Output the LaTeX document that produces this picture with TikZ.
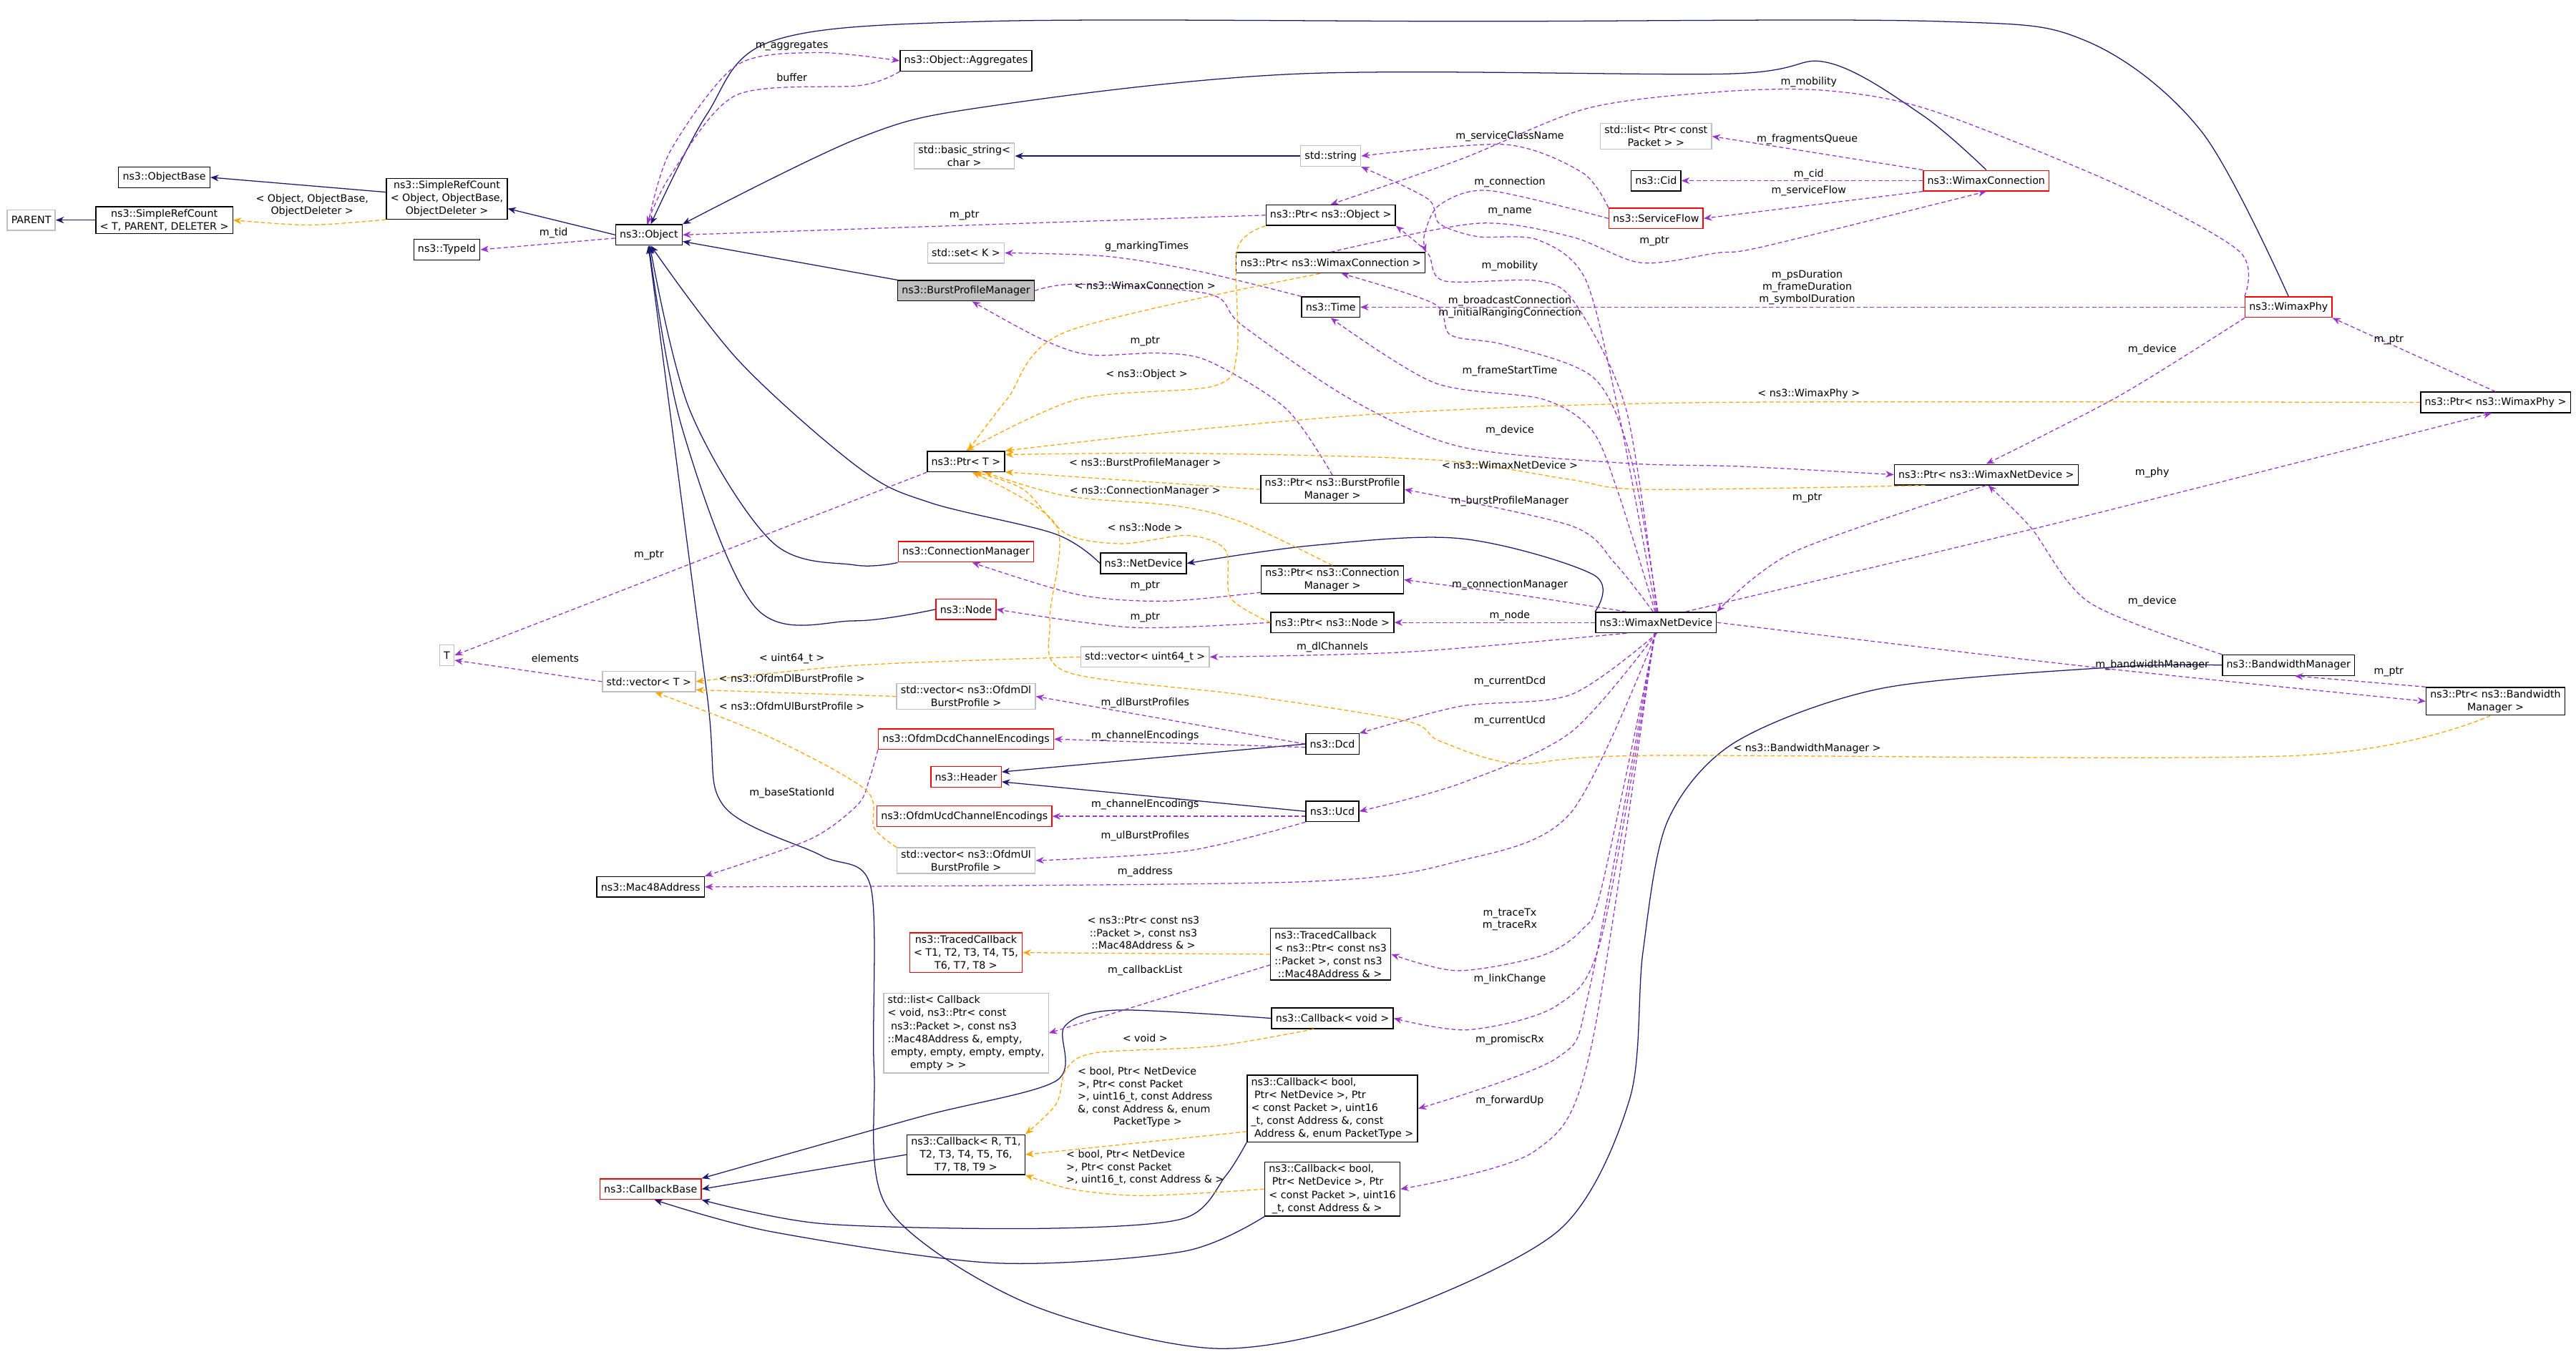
\documentclass[tikz,border=0pt]{standalone}
\usepackage{fontspec}
\setmainfont{DejaVu Sans}
\usetikzlibrary{arrows.meta}
\definecolor{inhc}{HTML}{191970}
\definecolor{usec}{HTML}{9A32CD}
\definecolor{tplc}{HTML}{FFA500}
\definecolor{grayb}{HTML}{BFBFBF}
\tikzset{
 box/.style={draw=black,line width=0.6pt,fill=white,inner xsep=2.5pt,inner ysep=1.5pt,minimum height=12.5pt,align=center,font=\fontsize{6.2}{7.9}\selectfont},
 redbox/.style={box,draw=red},
 graybox/.style={box,draw=grayb},
 lbl/.style={inner sep=0pt,align=center,font=\fontsize{6.2}{7.6}\selectfont},
 inh/.style={draw=inhc,line width=0.55pt,-{Stealth[length=5pt,width=4pt]}},
 use/.style={draw=usec,line width=0.55pt,dash pattern=on 2.5pt off 1.6pt,-{Stealth[length=5pt,width=4pt]}},
 tpl/.style={draw=tplc,line width=0.55pt,dash pattern=on 2.5pt off 1.6pt,-{Stealth[length=5pt,width=4pt]}},
}
\begin{document}
\begin{tikzpicture}[x=1pt,y=-1pt]
\useasboundingbox[fill=white] (0,0) rectangle (1568,823);
% nodes
\node[graybox] (parent) at (19,134) {PARENT};
\node[box] (srct) at (100,134) {ns3::SimpleRefCount\\{}< T, PARENT, DELETER >};
\node[box] (objbase) at (100,108) {ns3::ObjectBase};
\node[box] (srco) at (272,121) {ns3::SimpleRefCount\\{}< Object, ObjectBase,\\ObjectDeleter >};
\node[box] (typeid) at (272,152) {ns3::TypeId};
\node[box] (obj) at (395,143) {ns3::Object};
\node[graybox] (tt) at (272,399) {T};
\node[graybox] (vect) at (395,415) {std::vector< T >};
\node[box] (aggr) at (588,37) {ns3::Object::Aggregates};
\node[graybox] (bstr) at (587,95) {std::basic\_string<\\char >};
\node[graybox] (str) at (810,95) {std::string};
\node[graybox] (lpk) at (1008,83) {std::list< Ptr< const\\Packet > >};
\node[box] (cid) at (1008,110) {ns3::Cid};
\node[redbox] (sflow) at (1008,133) {ns3::ServiceFlow};
\node[box] (pobj) at (810,131) {ns3::Ptr< ns3::Object >};
\node[graybox] (setk) at (588,154) {std::set< K >};
\node[box] (pwc) at (810,160) {ns3::Ptr< ns3::WimaxConnection >};
\node[box,fill=grayb] (bpm) at (588,177) {ns3::BurstProfileManager};
\node[box] (time) at (810,187) {ns3::Time};
\node[box] (ptrt) at (588,281) {ns3::Ptr< T >};
\node[box] (pbpm) at (811,298) {ns3::Ptr< ns3::BurstProfile\\Manager >};
\node[box] (nd) at (696,343) {ns3::NetDevice};
\node[redbox] (cm) at (588,336) {ns3::ConnectionManager};
\node[box] (pcm) at (811,353) {ns3::Ptr< ns3::Connection\\Manager >};
\node[redbox] (node) at (588,371) {ns3::Node};
\node[box] (pnode) at (811,379) {ns3::Ptr< ns3::Node >};
\node[box] (wnd) at (1008,379) {ns3::WimaxNetDevice};
\node[graybox] (vu64) at (697,400) {std::vector< uint64\_t >};
\node[graybox] (vdl) at (588,424) {std::vector< ns3::OfdmDl\\BurstProfile >};
\node[redbox] (dcdenc) at (588,450) {ns3::OfdmDcdChannelEncodings};
\node[box] (dcd) at (811,453) {ns3::Dcd};
\node[redbox] (hdr) at (588,473) {ns3::Header};
\node[box] (ucd) at (811,494) {ns3::Ucd};
\node[redbox] (ucdenc) at (587,497) {ns3::OfdmUcdChannelEncodings};
\node[graybox] (vul) at (588,524) {std::vector< ns3::OfdmUl\\BurstProfile >};
\node[box] (mac) at (396,540) {ns3::Mac48Address};
\node[redbox] (tcbt) at (588,580) {ns3::TracedCallback\\{}< T1, T2, T3, T4, T5,\\T6, T7, T8 >};
\node[graybox,align=left] (lcb) at (588,629) {std::list< Callback\\{}< void, ns3::Ptr< const\\\ ns3::Packet >, const ns3\\::Mac48Address \&, empty,\\\ empty, empty, empty, empty,\\\hspace{2.2em}empty > >};
\node[box] (cbr) at (588,703) {ns3::Callback< R, T1,\\T2, T3, T4, T5, T6,\\T7, T8, T9 >};
\node[redbox] (cbase) at (396,724) {ns3::CallbackBase};
\node[box,align=left] (tcbp) at (810,581) {ns3::TracedCallback\\{}< ns3::Ptr< const ns3\\::Packet >, const ns3\\\ ::Mac48Address \& >};
\node[box] (cbv) at (811,620) {ns3::Callback< void >};
\node[box,align=left] (cb7) at (811,675) {ns3::Callback< bool,\\\ Ptr< NetDevice >, Ptr\\{}< const Packet >, uint16\\\_t, const Address \&, const\\\ Address \&, enum PacketType >};
\node[box,align=left] (cb5) at (811,724) {ns3::Callback< bool,\\\ Ptr< NetDevice >, Ptr\\{}< const Packet >, uint16\\\ \_t, const Address \& >};
\node[redbox] (wc) at (1209,110) {ns3::WimaxConnection};
\node[redbox] (wphy) at (1393,187) {ns3::WimaxPhy};
\node[box] (pwphy) at (1519,245) {ns3::Ptr< ns3::WimaxPhy >};
\node[box] (pwnd) at (1209,289) {ns3::Ptr< ns3::WimaxNetDevice >};
\node[box] (bwm) at (1393,405) {ns3::BandwidthManager};
\node[box] (pbwm) at (1519,427) {ns3::Ptr< ns3::Bandwidth\\Manager >};

% inheritance
\draw[inh] (srct.west) -- (parent.east);
\draw[inh] (srco.west |- 0,117) -- (objbase.east);
\draw[inh] (obj.west) -- (srco.east |- 0,127);
\draw[inh] (bpm.north west) -- (obj.east |- 0,147);
\draw[inh] (str.west) -- (bstr.east);
\draw[inh] (dcd.west) -- (hdr.east |- 0,470);
\draw[inh] (ucd.west) -- (hdr.east |- 0,476);
\draw[inh] (cbr.west) -- (cbase.east);
\draw[inh] plot[smooth,tension=0.55] coordinates {(wphy.north) (1340,80) (1270,25) (1180,13) (900,13) (600,13) (470,25) (430,70) (obj.80)};
\draw[inh] plot[smooth,tension=0.55] coordinates {(wc.north) (1170,70) (1112,38) (1050,45) (789,45) (600,65) (523,84) (obj.north east)};
\draw[inh] plot[smooth,tension=0.55] coordinates {(nd.west) (642,325) (566,306) (523,285) (450,220) (obj.-80)};
\draw[inh] plot[smooth,tension=0.55] coordinates {(cm.south west) (520,344) (470,330) (420,250) (obj.-85)};
\draw[inh] plot[smooth,tension=0.55] coordinates {(node.west) (520,378) (460,370) (415,260) (obj.-90)};
\draw[inh] plot[smooth,tension=0.55] coordinates {(wnd.north west) (970,350) (890,328) (800,332) (nd.east)};
\draw[inh] plot[smooth,tension=0.5] coordinates {(bwm.west) (1290,406) (1146,419) (1056,452) (1015,500) (1000,580) (992,669) (949,749) (840,802) (739,821) (624,793) (540,735) (532,650) (530,540) (500,521) (440,490) (430,420) (obj.-93)};
\draw[inh] plot[smooth,tension=0.5] coordinates {(cbv.west) (680,615) (648,625) (643,658) (560,680) (cbase.north east)};
\draw[inh] plot[smooth,tension=0.5] coordinates {(cb7.south west) (746,716) (720,742) (632,748) (500,745) (cbase.south east)};
\draw[inh] plot[smooth,tension=0.5] coordinates {(cb5.south west) (720,762) (605,769) (470,750) (cbase.-70)};

% usage (purple)
\draw[use] plot[smooth,tension=0.5] coordinates {(obj.95) (408,92) (448,40) (497,32) (aggr.west)};
\node[lbl] (l1) at (482,28) {m\_aggregates};
\draw[use] plot[smooth,tension=0.5] coordinates {(aggr.south west) (524,52) (448,58) (408,107) (obj.100)};
\node[lbl] (l2) at (482,47) {buffer};
\draw[use] (obj.west |- 0,145) -- (typeid.east);
\node[lbl] (l3) at (337,142) {m\_tid};
\draw[use] (pobj.west) -- (obj.east);
\node[lbl] (l4) at (587,131) {m\_ptr};
\draw[use] (ptrt.south west) -- (tt.east);
\node[lbl] (l5) at (395,338) {m\_ptr};
\draw[use] (vect.west) -- (tt.east |- 0,402);
\node[lbl] (l6) at (338,401) {elements};
\draw[use] plot[smooth,tension=0.5] coordinates {(sflow.north west) (963,105) (916,88) (str.east)};
\node[lbl] (l7) at (919,83) {m\_serviceClassName};
\draw[use] (wc.north west) -- (lpk.east);
\node[lbl] (l8) at (1100,85) {m\_fragmentsQueue};
\draw[use] (wc.west) -- (cid.east);
\node[lbl] (l9) at (1101,106) {m\_cid};
\draw[use] (wc.south west) -- (sflow.east);
\node[lbl] (l10) at (1101,116) {m\_serviceFlow};
\draw[use] plot[smooth,tension=0.5] coordinates {(sflow.west) (906,116) (876,125) (867,143) (pwc.north east)};
\node[lbl] (l11) at (919,111) {m\_connection};
\draw[use] plot[smooth,tension=0.5] coordinates {(pwc.north) (899,136) (956,144) (999,160) (1045,154) (1074,150) (wc.south)};
\node[lbl] (l12) at (1007,147) {m\_ptr};
\draw[use] plot[smooth,tension=0.5] coordinates {(wnd.north) (985,250) (965,170) (936,146) (899,144) (876,136) (869,121) (str.south east)};
\node[lbl] (l13) at (919,129) {m\_name};
\draw[use] plot[smooth,tension=0.5] coordinates {(wphy.north west) (1363,153) (1290,113) (1175,67) (1110,55) (1045,56) (966,66) (889,97) (pobj.north)};
\node[lbl] (l14) at (1101,50) {m\_mobility};
\draw[use] plot[smooth,tension=0.5] coordinates {(wnd.85) (990,250) (959,185) (936,171) (879,171) (869,154) (pobj.south east)};
\node[lbl] (l15) at (919,162) {m\_mobility};
\draw[use] plot[smooth,tension=0.5] coordinates {(wnd.80) (993,280) (970,230) (916,210) (883,204) (873,185) (pwc.-45)};
\node[lbl] (l16) at (919,187) {m\_broadcastConnection\\m\_initialRangingConnection};
\draw[use] (wphy.west) -- (time.east);
\node[lbl] (l17) at (1100,175) {m\_psDuration\\m\_frameDuration\\m\_symbolDuration};
\draw[use] plot[smooth,tension=0.5] coordinates {(wnd.95) (985,300) (969,262) (939,243) (873,233) (time.south)};
\node[lbl] (l18) at (919,226) {m\_frameStartTime};
\draw[use] plot[smooth,tension=0.5] coordinates {(time.north west) (729,165) (673,156) (setk.east)};
\node[lbl] (l19) at (698,150) {g\_markingTimes};
\draw[use] plot[smooth,tension=0.5] coordinates {(bpm.east) (656,173) (736,179) (756,198) (822,243) (889,272) (989,282) (1060,284) (pwnd.west)};
\node[lbl] (l20) at (919,262) {m\_device};
\draw[use] plot[smooth,tension=0.5] coordinates {(pbpm.north) (783,249) (736,220) (706,215) (663,216) (633,206) (bpm.-60)};
\node[lbl] (l21) at (697,208) {m\_ptr};
\draw[use] plot[smooth,tension=0.5] coordinates {(pwnd.south) (1092,336) (wnd.north east)};
\node[lbl] (l22) at (1100,303) {m\_ptr};
\draw[use] plot[smooth,tension=0.5] coordinates {(wphy.south west) (1290,241) (pwnd.north)};
\node[lbl] (l23) at (1310,213) {m\_device};
\draw[use] plot[smooth,tension=0.5] coordinates {(bwm.north west) (1272,367) (1236,321) (pwnd.-80)};
\node[lbl] (l24) at (1310,366) {m\_device};
\draw[use] (pwphy.north) -- (wphy.south east);
\node[lbl] (l25) at (1454,207) {m\_ptr};
\draw[use] plot[smooth,tension=0.5] coordinates {(wnd.20) (1254,318) (pwphy.-110)};
\node[lbl] (l26) at (1310,288) {m\_phy};
\draw[use] plot[smooth,tension=0.5] coordinates {(wnd.east) (1272,406) (pbwm.west)};
\node[lbl] (l27) at (1310,405) {m\_bandwidthManager};
\draw[use] (pbwm.north west) -- (bwm.-60);
\node[lbl] (l28) at (1454,409) {m\_ptr};
\draw[use] plot[smooth,tension=0.5] coordinates {(pcm.-170) (709,366) (656,362) (cm.-60)};
\node[lbl] (l29) at (697,357) {m\_ptr};
\draw[use] plot[smooth,tension=0.5] coordinates {(pnode.west) (689,382) (node.east)};
\node[lbl] (l30) at (697,376) {m\_ptr};
\draw[use] (wnd.west) -- (pnode.east);
\node[lbl] (l31) at (919,375) {m\_node};
\draw[use] plot[smooth,tension=0.5] coordinates {(wnd.160) (923,362) (pcm.east)};
\node[lbl] (l32) at (919,356) {m\_connectionManager};
\draw[use] plot[smooth,tension=0.5] coordinates {(wnd.105) (983,343) (956,320) (pbpm.east)};
\node[lbl] (l33) at (919,305) {m\_burstProfileManager};
\draw[use] plot[smooth,tension=0.5] coordinates {(wnd.-160) (856,397) (vu64.east)};
\node[lbl] (l34) at (811,394) {m\_dlChannels};
\draw[use] plot[smooth,tension=0.5] coordinates {(dcd.west) (vdl.east)};
\node[lbl] (l35) at (697,428) {m\_dlBurstProfiles};
\draw[use] (dcd.west |- 0,455) -- (dcdenc.east);
\node[lbl] (l36) at (697,448) {m\_channelEncodings};
\draw[use] (ucd.west |- 0,497) -- (ucdenc.east);
\node[lbl] (l37) at (697,490) {m\_channelEncodings};
\draw[use] plot[smooth,tension=0.5] coordinates {(ucd.south west) (723,518) (vul.east)};
\node[lbl] (l38) at (697,509) {m\_ulBurstProfiles};
\draw[use] plot[smooth,tension=0.5] coordinates {(wnd.-85) (956,423) (889,430) (dcd.north east)};
\node[lbl] (l39) at (919,415) {m\_currentDcd};
\draw[use] plot[smooth,tension=0.5] coordinates {(wnd.-88) (956,446) (889,477) (ucd.east)};
\node[lbl] (l40) at (919,439) {m\_currentUcd};
\draw[use] plot[smooth,tension=0.5] coordinates {(wnd.-90) (956,495) (889,524) (789,537) (mac.east)};
\node[lbl] (l41) at (697,531) {m\_address};
\draw[use] plot[smooth,tension=0.5] coordinates {(dcdenc.south west) (529,475) (522,490) (493,511) (mac.north east)};
\node[lbl] (l42) at (482,483) {m\_baseStationId};
\draw[use] plot[smooth,tension=0.5] coordinates {(wnd.-93) (975,540) (963,566) (938,582) (887,591) (tcbp.east)};
\node[lbl] (l43) at (919,560) {m\_traceTx\\m\_traceRx};
\draw[use] plot[smooth,tension=0.5] coordinates {(wnd.-95) (975,570) (948,612) (894,627) (cbv.east)};
\node[lbl] (l44) at (919,596) {m\_linkChange};
\draw[use] plot[smooth,tension=0.5] coordinates {(wnd.-97) (968,600) (948,644) (cb7.east)};
\node[lbl] (l45) at (919,633) {m\_promiscRx};
\draw[use] plot[smooth,tension=0.5] coordinates {(wnd.-99) (968,640) (934,701) (cb5.east)};
\node[lbl] (l46) at (919,670) {m\_forwardUp};
\draw[use] plot[smooth,tension=0.5] coordinates {(tcbp.-170) (lcb.east)};
\node[lbl] (l47) at (697,591) {m\_callbackList};

% template (orange)
\draw[tpl] plot[smooth,tension=0.5] coordinates {(srco.south west) (188,137) (srct.east)};
\node[lbl] (t1) at (190,125) {< Object, ObjectBase,\\ObjectDeleter >};
\draw[tpl] plot[smooth,tension=0.5] coordinates {(pobj.south west) (753,152) (753,214) (739,235) (656,243) (ptrt.north)};
\node[lbl] (t2) at (698,228) {< ns3::Object >};
\draw[tpl] plot[smooth,tension=0.5] coordinates {(pwc.-135) (649,202) (613,243) (ptrt.80)};
\node[lbl] (t3) at (697,174) {< ns3::WimaxConnection >};
\draw[tpl] plot[smooth,tension=0.5] coordinates {(pwphy.west) (1045,245) (856,251) (723,262) (ptrt.north east)};
\node[lbl] (t4) at (1101,240) {< ns3::WimaxPhy >};
\draw[tpl] plot[smooth,tension=0.5] coordinates {(pwnd.-170) (1002,298) (956,292) (873,280) (723,276) (ptrt.10)};
\node[lbl] (t5) at (919,283) {< ns3::WimaxNetDevice >};
\draw[tpl] plot[smooth,tension=0.5] coordinates {(pbpm.west) (ptrt.-15)};
\node[lbl] (t6) at (697,282) {< ns3::BurstProfileManager >};
\draw[tpl] plot[smooth,tension=0.5] coordinates {(pcm.north) (756,318) (716,308) (649,302) (ptrt.-30)};
\node[lbl] (t7) at (697,299) {< ns3::ConnectionManager >};
\draw[tpl] plot[smooth,tension=0.5] coordinates {(pnode.west) (749,364) (746,335) (723,326) (683,331) (649,325) (623,298) (ptrt.-50)};
\node[lbl] (t8) at (697,321) {< ns3::Node >};
\draw[tpl] plot[smooth,tension=0.5] coordinates {(pbwm.-110) (1399,460) (1002,460) (923,465) (876,451) (856,439) (756,423) (649,409) (639,378) (643,320) (ptrt.-60)};
\node[lbl] (t9) at (1100,456) {< ns3::BandwidthManager >};
\draw[tpl] plot[smooth,tension=0.5] coordinates {(vu64.west) (523,405) (vect.east)};
\node[lbl] (t10) at (482,401) {< uint64\_t >};
\draw[tpl] plot[smooth,tension=0.5] coordinates {(vdl.west) (vect.-10)};
\node[lbl] (t11) at (482,413) {< ns3::OfdmDlBurstProfile >};
\draw[tpl] plot[smooth,tension=0.5] coordinates {(vul.north west) (532,504) (527,481) (469,449) (vect.-60)};
\node[lbl] (t12) at (482,430) {< ns3::OfdmUlBurstProfile >};
\draw[tpl] (tcbp.west) -- (tcbt.east);
\node[lbl] (t13) at (696,568) {< ns3::Ptr< const ns3\\::Packet >, const ns3\\::Mac48Address \& >};
\draw[tpl] plot[smooth,tension=0.5] coordinates {(cbv.-150) (739,637) (667,641) (649,651) (643,672) (cbr.north east)};
\node[lbl] (t14) at (697,632) {< void >};
\draw[tpl] plot[smooth,tension=0.5] coordinates {(cb7.-165) (cbr.east)};
\node[lbl,align=left] (t15) at (697,668) {< bool, Ptr< NetDevice\\>, Ptr< const Packet\\>, uint16\_t, const Address\\\&, const Address \&, enum\\\hspace{3.5em}PacketType >};
\draw[tpl] plot[smooth,tension=0.5] coordinates {(cb5.west) (696,728) (652,724) (cbr.south east)};
\node[lbl,align=left] (t16) at (697,711) {< bool, Ptr< NetDevice\\>, Ptr< const Packet\\>, uint16\_t, const Address \& >};
\end{tikzpicture}
\end{document}
